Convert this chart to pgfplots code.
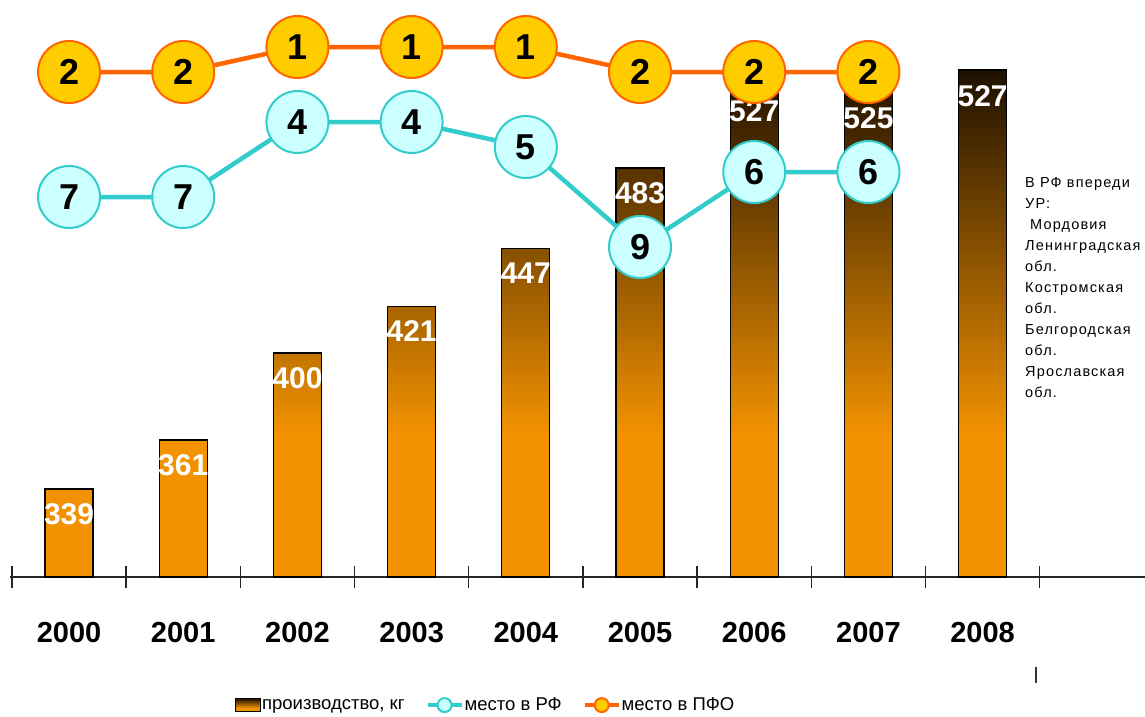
\documentclass[border=0pt]{standalone}
\usepackage{pgfplots}
\pgfplotsset{compat=1.18}
\usepackage{pgfplotstable}
\usepackage{fontspec}
\setmainfont{Liberation Sans}
\newfontfamily\notefont[LetterSpace=8]{Liberation Sans}

\definecolor{bartop}{RGB}{30,16,0}
\definecolor{barbot}{RGB}{243,146,0}
\definecolor{rfline}{RGB}{51,204,204}
\definecolor{rffill}{RGB}{204,255,255}
\definecolor{pfoline}{RGB}{255,102,0}
\definecolor{pfofill}{RGB}{255,204,0}
% dark at the top, orange over the lower part of each bar
\pgfdeclareverticalshading{barshade}{100bp}{color(0bp)=(barbot); color(39bp)=(barbot); color(75bp)=(bartop); color(100bp)=(bartop)}

% production, kg (off = shift of the value label below the bar top)
\pgfplotstableread{
x y off
0 339 25
1 361 25
2 400 25
3 421 25
4 447 25
5 483 25
6 527 41
7 525 44
8 527 26
}\prodtable

% rank in RF and in PFO
\pgfplotstableread{
x rf pfo
0 7 2
1 7 2
2 4 1
3 4 1
4 5 1
5 9 2
6 6 2
7 6 2
}\ranktable

\begin{document}
\begin{tikzpicture}
\path[use as bounding box] (0pt,0pt) rectangle (1145pt,716pt);

\begin{axis}[
  at={(10pt,139pt)}, anchor=south west,
  scale only axis, width=1135pt, height=577pt,
  xmin=-0.517, xmax=9.422, ymin=299.5, ymax=558.4,
  axis x line*=bottom, axis y line=none,
  axis line style={line width=1.5pt, black!85},
  xtick={-0.5,0.5,1.5,2.5,3.5,4.5,5.5,6.5,7.5,8.5},
  xticklabels={2000,2001,2002,2003,2004,2005,2006,2007,2008,{}},
  major tick length=22pt, tick align=center,
  tick style={line width=1.5pt, black!85},
  xticklabel style={font=\fontsize{29}{29}\selectfont\bfseries, anchor=center,
    xshift=57.1pt, yshift=-45pt},
  /pgf/number format/assume math mode=true,
  clip=false,
]
\addplot[ybar, bar width=48pt, draw=black, line width=1.2pt, shading=barshade,
  nodes near coords,
  visualization depends on={\thisrow{off}\as\off},
  every node near coord/.append style={anchor=center, yshift=-\off pt,
    text=white, font=\fontsize{30}{30}\selectfont\bfseries},
] table[x=x, y=y] {\prodtable};
\end{axis}

\begin{axis}[
  at={(10pt,139pt)}, anchor=south west,
  scale only axis, width=1135pt, height=577pt,
  xmin=-0.517, xmax=9.422, ymin=-0.88, ymax=22.2, y dir=reverse,
  hide axis, clip=false,
  /pgf/number format/assume math mode=true,
  legend columns=3,
  legend style={at={(0.4185,-0.222)}, anchor=center, draw=none, fill=none,
    font=\fontsize{18.5}{18.5}\selectfont, nodes={inner sep=1pt},
    /tikz/every even column/.append style={column sep=20pt}},
]
\addlegendimage{legend image code/.code={
  \draw[draw=black, line width=1.5pt, shading=barshade]
    (0pt,-6.5pt) rectangle (25pt,6.5pt);}}
\addlegendentry{производство, кг}

\addplot[rfline, line width=4.5pt, mark=*, mark size=31pt,
  mark options={fill=rffill, draw=rfline, line width=2pt},
  point meta=\thisrow{rf}, nodes near coords,
  every node near coord/.append style={anchor=center, text=black,
    font=\fontsize{36}{36}\selectfont\bfseries},
  legend image code/.code={
    \draw[rfline, line width=4pt] (0pt,0pt) -- (34pt,0pt);
    \draw[fill=rffill, draw=rfline, line width=2pt] (17pt,0pt) circle (7pt);},
] table[x=x, y=rf] {\ranktable};
\addlegendentry{место в РФ}

\addplot[pfoline, line width=4.5pt, mark=*, mark size=31pt,
  mark options={fill=pfofill, draw=pfoline, line width=2pt},
  point meta=\thisrow{pfo}, nodes near coords,
  every node near coord/.append style={anchor=center, text=black,
    font=\fontsize{36}{36}\selectfont\bfseries},
  legend image code/.code={
    \draw[pfoline, line width=4pt] (0pt,0pt) -- (34pt,0pt);
    \draw[fill=pfofill, draw=pfoline, line width=2pt] (17pt,0pt) circle (7pt);},
] table[x=x, y=pfo] {\ranktable};
\addlegendentry{место в ПФО}
\end{axis}

\node[anchor=north west, inner sep=0pt, align=left,
  font=\notefont\fontsize{14.5}{21}\selectfont] at (1025pt,539pt)
  {В РФ впереди\\УР:\\\hspace*{5pt}Мордовия\\Ленинградская\\обл.\\Костромская\\обл.\\Белгородская\\обл.\\Ярославская\\обл.};
\draw[line width=1.5pt, black!80] (1036pt,33pt) -- (1036pt,49pt);
\end{tikzpicture}
\end{document}
